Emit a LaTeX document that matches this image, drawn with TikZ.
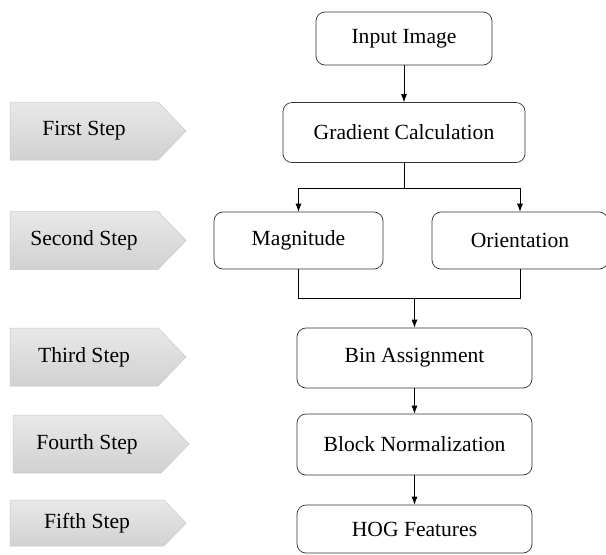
\documentclass[tikz,border=0pt]{standalone}
\usepackage{fontspec}
\setmainfont{Liberation Serif}
\usetikzlibrary{shapes,arrows.meta}

\begin{document}
\begin{tikzpicture}[x=1pt,y=-1pt,line width=0.7pt,>={Latex[length=8pt,width=6pt]}]
\tikzstyle{every node}=[font=\fontsize{21.6}{26}\selectfont]
\tikzstyle{proc}=[rectangle,rounded corners=9pt,draw=black!80,fill=white,inner sep=0pt]
\tikzstyle{stepbox}=[signal,signal to=east,signal pointer angle=92,draw=gray!45,line width=0.5pt,top color=gray!18,bottom color=gray!36,inner sep=0pt,minimum width=176,minimum height=58]
\useasboundingbox (0,0) rectangle (606,555);

% step labels on the left
\node[stepbox](S1) at (84,131) {First Step};
\node[stepbox](S2) at (84,240.5) {Second Step};
\node[stepbox](S3) at (84,357) {Third Step};
\node[stepbox](S4) at (87,444) {Fourth Step};
\node[stepbox,minimum height=46](S5) at (87,523) {Fifth Step};

% flow
\node[proc,minimum width=176,minimum height=53](input) at (404,38.5) {Input Image};
\node[proc,minimum width=242,minimum height=60](grad) at (404,132.5) {Gradient Calculation};
\node[proc,minimum width=169,minimum height=57](mag) at (298.5,240.5) {Magnitude};
\node[proc,minimum width=176,minimum height=57](orient) at (520,240.5) {Orientation};
\node[proc,minimum width=235,minimum height=60](bin) at (414.5,358) {Bin Assignment};
\node[proc,minimum width=235,minimum height=61](block) at (414.5,444.5) {Block Normalization};
\node[proc,minimum width=235,minimum height=48](hog) at (414.5,529) {HOG Features};

\coordinate (split) at (404,188);
\coordinate (join) at (414.5,298);

\draw[->] (input) -- (grad);
\draw (grad) -- (split);
\draw[->] (split) -| (mag);
\draw[->] (split) -| (orient);
\draw (mag) |- (join);
\draw (orient) |- (join);
\draw[->] (join) -- (bin);
\draw[->] (bin) -- (block);
\draw[->] (block) -- (hog);
\end{tikzpicture}
\end{document}
